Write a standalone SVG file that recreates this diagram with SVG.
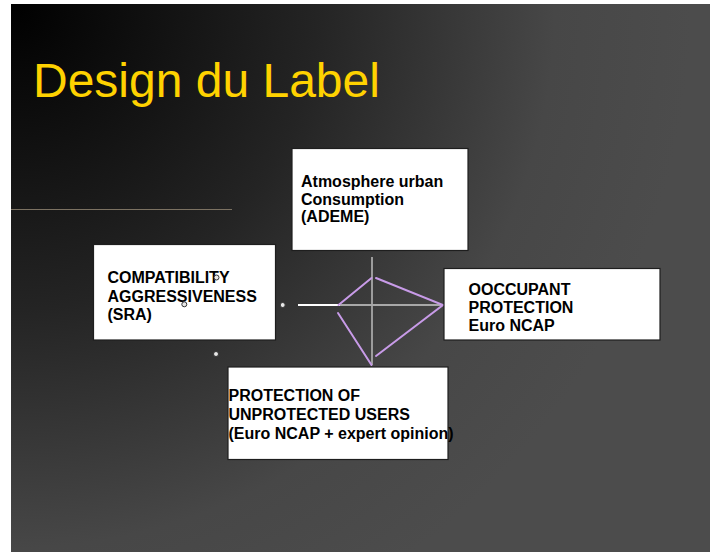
<svg xmlns="http://www.w3.org/2000/svg" width="710" height="552" viewBox="0 0 710 552">
  <defs>
    <radialGradient id="slideBg" gradientUnits="userSpaceOnUse" cx="11" cy="4" r="680">
      <stop offset="0" stop-color="#000000"/>
      <stop offset="0.45" stop-color="#242424"/>
      <stop offset="0.8" stop-color="#474747"/>
      <stop offset="1" stop-color="#4c4c4c"/>
    </radialGradient>
    <style>
      .box { fill: #ffffff; stroke: #1e1e1e; stroke-width: 1.2; }
      .lbl { font-family: "Liberation Sans", Arial, sans-serif; font-weight: bold; font-size: 16px; fill: #000000; }
      .axis { stroke: #9c9c9c; stroke-width: 2; fill: none; }
      .kite { stroke: #c89be8; stroke-width: 2; fill: none; stroke-linecap: round; }
      .handle { fill: #e8e8e8; stroke: #333333; stroke-width: 1; }
    </style>
  </defs>

  <!-- page margin and slide background -->
  <rect x="0" y="0" width="710" height="552" fill="#ffffff"/>
  <rect x="11" y="4" width="699" height="548" fill="url(#slideBg)"/>

  <!-- title -->
  <text x="33" y="97" font-family="'Liberation Sans', Arial, sans-serif" font-size="48" fill="#ffd200">Design du Label</text>
  <line x1="11" y1="209.5" x2="232" y2="209.5" stroke="#7c7262" stroke-width="1"/>

  <!-- connectors: axes and kite -->
  <g id="connectors">
    <line class="axis" x1="372" y1="257" x2="372" y2="365"/>
    <line x1="338" y1="305" x2="443" y2="305" stroke="#a8a8a8" stroke-width="2"/>
    <line x1="298" y1="305" x2="340" y2="305" stroke="#ffffff" stroke-width="2"/>
    <polyline class="kite" points="338.5,305 371.5,278"/>
    <polyline class="kite" points="376,278 443,305 376,356"/>
    <polyline class="kite" points="338,313 371.5,365"/>
  </g>

  <g id="node-atmosphere">
    <rect class="box" x="292" y="148.5" width="176" height="102"/>
    <text class="lbl" x="301" y="187">Atmosphere urban</text>
    <text class="lbl" x="301" y="204.5">Consumption</text>
    <text class="lbl" x="301" y="222">(ADEME)</text>
  </g>

  <g id="node-compatibility">
    <rect class="box" x="93.5" y="244.5" width="182" height="95.5"/>
    <text class="lbl" x="107.5" y="283">COMPATIBILITY</text>
    <text class="lbl" x="107.5" y="301.5">AGGRESSIVENESS</text>
    <text class="lbl" x="107.5" y="320">(SRA)</text>
  </g>

  <g id="node-occupant">
    <rect class="box" x="444" y="268.5" width="216" height="71.5"/>
    <text class="lbl" x="468.5" y="294.5">OOCCUPANT</text>
    <text class="lbl" x="468.5" y="312.5">PROTECTION</text>
    <text class="lbl" x="468.5" y="330.5">Euro NCAP</text>
  </g>

  <g id="node-unprotected">
    <rect class="box" x="228" y="367" width="220" height="92.5"/>
    <text class="lbl" x="228.5" y="401">PROTECTION OF</text>
    <text class="lbl" x="228.5" y="420">UNPROTECTED USERS</text>
    <text class="lbl" x="228.5" y="438.5">(Euro NCAP + expert opinion)</text>
  </g>

  <!-- selection handles -->
  <g id="handles">
    <circle class="handle" cx="216.5" cy="277.5" r="2.5"/>
    <circle class="handle" cx="184.3" cy="304.3" r="2.5"/>
    <circle class="handle" cx="282.7" cy="305" r="2.5"/>
    <circle class="handle" cx="216" cy="354" r="2.5"/>
  </g>
</svg>
